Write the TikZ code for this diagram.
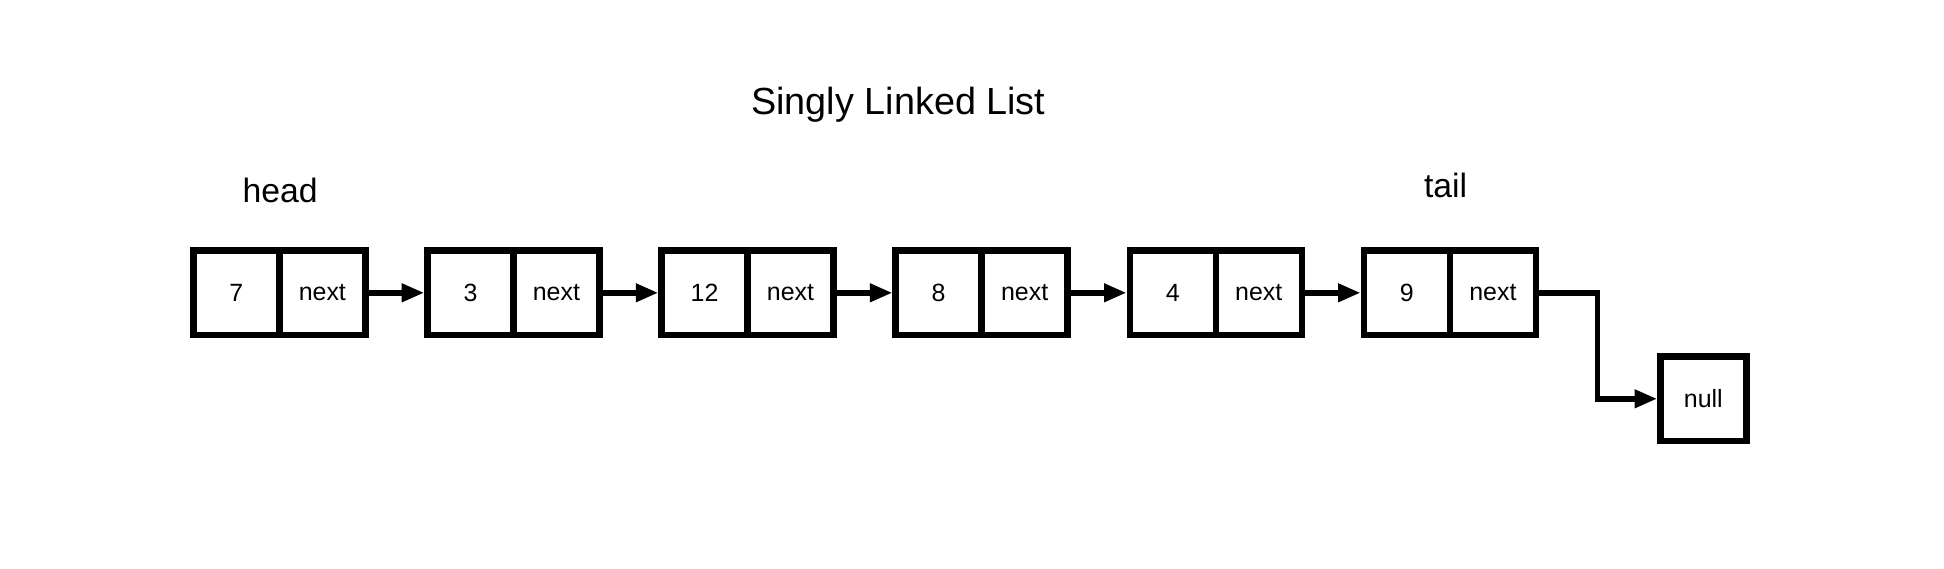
\documentclass[tikz,border=0pt]{standalone}
\usepackage{fontspec}
\setmainfont{Liberation Sans}
\usetikzlibrary{positioning, arrows.meta}

\tikzset{
  cell/.style={draw, line width=0.13cm, minimum width=1.72cm, minimum height=1.69cm,
    inner sep=0pt, font=\fontsize{14.2pt}{17pt}\selectfont},
  link/.style={line width=0.11cm, -{Triangle[length=0.45cm, width=0.35cm]}},
  tag/.style={inner sep=0pt, text depth=0pt, font=\fontsize{19.2pt}{23pt}\selectfont},
  heading/.style={inner sep=0pt, text depth=0pt, font=\fontsize{21.5pt}{26pt}\selectfont}
}

\begin{document}
\begin{tikzpicture}
\useasboundingbox (-4.727,5.856) rectangle (34.153,-5.504);

\node[cell] (v1) at (0,0) {7};
\node[cell, right=-0.13cm of v1] (p1) {next};
\node[cell, right=1.112cm of p1] (v2) {3};
\node[cell, right=-0.13cm of v2] (p2) {next};
\node[cell, right=1.112cm of p2] (v3) {12};
\node[cell, right=-0.13cm of v3] (p3) {next};
\node[cell, right=1.112cm of p3] (v4) {8};
\node[cell, right=-0.13cm of v4] (p4) {next};
\node[cell, right=1.112cm of p4] (v5) {4};
\node[cell, right=-0.13cm of v5] (p5) {next};
\node[cell, right=1.112cm of p5] (v6) {9};
\node[cell, right=-0.13cm of v6] (p6) {next};
\node[cell, below right=0.3cm and 2.36cm of p6] (nul) {null};

\node[tag, above=0.88cm of v1.north east, xshift=-0.05cm] (head) {head};
\node[tag, above=0.98cm of v6.north east, xshift=-0.15cm] (tail) {tail};
\node[heading, above=2.65cm of v4.north west, xshift=0.12cm] (title) {Singly Linked List};

\draw[link] (p1) -- (v2);
\draw[link] (p2) -- (v3);
\draw[link] (p3) -- (v4);
\draw[link] (p4) -- (v5);
\draw[link] (p5) -- (v6);
\draw[link] (p6.east) -- ++(1.17cm,0) |- (nul.west);
\end{tikzpicture}
\end{document}
